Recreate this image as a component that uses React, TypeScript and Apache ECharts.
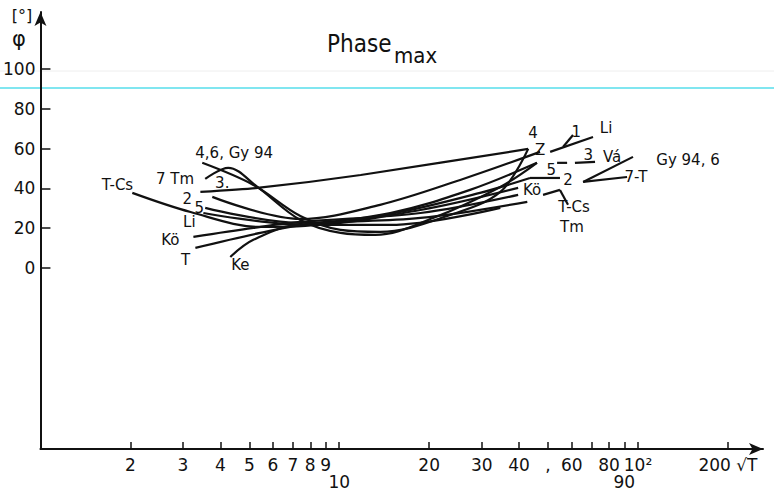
import React, { useEffect, useRef } from 'react';
import * as echarts from 'echarts';

// ---- axis ticks ----
const xTickValues = [2, 3, 4, 5, 6, 7, 8, 9, 10, 20, 30, 40, 50, 60, 70, 80, 90, 100, 200];
const xTickLabels = ['2', '3', '4', '5', '6', '7', '8', '9', '\n10', '20', '30', '40', ',', '60', '', '80', '\n90', '10²', '200 √T'];
const yTickValues = [0, 20, 40, 60, 80, 100];

// ---- curves: [√T, φ in degrees] ----
const curveTm4 = [[3.43, 38.2], [5.32, 40.2], [11.8, 46.7], [42.9, 59.8]];
const curve2Z = [[3.76, 35.7], [7.41, 24.6], [13.7, 31.7], [25.4, 44.2], [47.0, 58.3]];
const curve55 = [[3.56, 30.2], [7.41, 22.6], [14.8, 27.6], [27.4, 39.2], [45.9, 52.8]];
const curveLi = [[3.51, 27.6], [7.7, 21.6], [18.7, 29.1], [39.7, 40.2]];
const curveTCs = [[2.03, 37.7], [3.18, 28.1], [5.44, 20.6], [7.7, 21.1], [16.0, 28.1], [29.6, 37.7], [43.5, 45.2]];
const curveKo = [[3.25, 15.6], [5.16, 20.1], [7.41, 23.1], [18.7, 27.6], [39.7, 36.7]];
const curveT = [[3.3, 10.1], [5.44, 17.6], [8.0, 22.1], [18.7, 25.1], [42.6, 33.2]];
const curveKe = [[4.32, 5.5], [5.16, 14.1], [7.41, 21.6], [14.8, 21.6], [34.6, 30.2]];
const curve3Arch = [[3.56, 44.7], [4.25, 50.3], [5.32, 40.7], [7.41, 24.1], [10.1, 17.6], [13.2, 16.6], [20.6, 25.1], [34.6, 40.7], [45.9, 52.8]];
const curve46Gy = [[3.48, 52.8], [5.16, 41.7], [7.41, 26.1], [10.1, 19.1], [13.7, 18.1], [23.5, 26.6], [34.6, 38.2], [42.9, 59.8]];

const smoothCurves = [curve2Z, curve55, curveLi, curveTCs, curveKo, curveT, curveKe, curve3Arch, curve46Gy];

// ---- short straight segments on the right ----
const segLi = [[50.8, 58.3], [70.7, 65.8]];
const seg1 = [[56.1, 60.8], [60.6, 66.8]];
const seg3 = [[61.5, 52.8], [71.8, 53.3]];
const segGy = [[65.5, 43.2], [96.2, 55.8]];
const seg7T = [[65.5, 43.2], [91.9, 45.7]];
const seg2 = [[43.5, 45.2], [54.8, 45.2]];
const segKo = [[48.1, 36.7], [54.8, 39.2]];
const segTCs = [[54.8, 39.2], [58.3, 31.7]];
const seg5 = [[53.6, 52.8], [57.9, 52.8]];

const straightLines = [curveTm4, segLi, seg1, seg3, segGy, seg7T, seg2, segKo, segTCs, seg5];

// ---- curve labels: [√T, φ, text] ----
const annotations: [number, number, string][] = [
  [1.81, 41.7, 'T-Cs'],
  [4.45, 57.8, '4,6, Gy 94'],
  [2.82, 44.5, '7 Tm'],
  [4.06, 42.7, '3.'],
  [3.1, 34.4, '2'],
  [3.4, 30.2, '5'],
  [3.15, 23.1, 'Li'],
  [2.72, 14.1, 'Kö'],
  [3.06, 4.0, 'T'],
  [4.67, 1.5, 'Ke'],
  [44.5, 67.8, '4'],
  [47.0, 59.3, 'Z'],
  [62.1, 68.3, '1'],
  [78.2, 70.4, 'Li'],
  [51.2, 49.2, '5'],
  [68.1, 56.8, '3'],
  [81.9, 55.8, 'Vá'],
  [147, 54.3, 'Gy 94, 6'],
  [58.3, 44.2, '2'],
  [98.4, 45.7, '7-T'],
  [44.2, 39.2, 'Kö'],
  [61.1, 30.7, 'T-Cs'],
  [60.1, 20.4, 'Tm'],
];

const FONT = '"DejaVu Sans", "Liberation Sans", sans-serif';
const INK = '#111111';

const lg = (v: number) => Math.log10(v);
const toLog = (pts: number[][]) => pts.map(([x, y]) => [lg(x), y]);

export default function App() {
  const ref = useRef<HTMLDivElement>(null);

  useEffect(() => {
    if (!ref.current) return;
    const chart = echarts.init(ref.current, null, { renderer: 'svg' });
    const xTickLogs = xTickValues.map(lg);

    const lineSeries: any[] = [];
    smoothCurves.forEach((c) => {
      lineSeries.push({
        type: 'line',
        data: toLog(c),
        smooth: 0.35,
        showSymbol: false,
        symbol: 'none',
        lineStyle: { color: INK, width: 2.2 },
        silent: true,
      });
    });
    straightLines.forEach((c) => {
      lineSeries.push({
        type: 'line',
        data: toLog(c),
        smooth: c === curveTm4 ? 0.2 : false,
        showSymbol: false,
        symbol: 'none',
        lineStyle: { color: INK, width: 2.2 },
        silent: true,
      });
    });

    const option: any = {
      animation: false,
      backgroundColor: '#ffffff',
      grid: { left: 40, right: 11, top: 12, bottom: 45, containLabel: false },
      xAxis: {
        type: 'value',
        min: 0,
        max: lg(262),
        axisLine: {
          show: true,
          onZero: false,
          symbol: ['none', 'arrow'],
          symbolSize: [9, 14],
          lineStyle: { color: INK, width: 2 },
        },
        axisTick: {
          show: true,
          inside: true,
          length: 7,
          customValues: xTickLogs,
          lineStyle: { color: INK, width: 1.5 },
        },
        axisLabel: {
          show: true,
          customValues: xTickLogs,
          hideOverlap: false,
          formatter: (v: number) => {
            const i = xTickLogs.findIndex((t) => Math.abs(t - v) < 1e-6);
            return i >= 0 ? xTickLabels[i] : '';
          },
          fontSize: 17,
          lineHeight: 17,
          color: INK,
          fontFamily: FONT,
          margin: 7,
        },
        splitLine: { show: false },
      },
      yAxis: {
        type: 'value',
        min: -91,
        max: 128.6,
        axisLine: {
          show: true,
          onZero: false,
          symbol: ['none', 'arrow'],
          symbolSize: [9, 14],
          lineStyle: { color: INK, width: 2 },
        },
        axisTick: {
          show: true,
          inside: true,
          length: 10,
          customValues: yTickValues,
          lineStyle: { color: INK, width: 1.5 },
        },
        axisLabel: {
          show: true,
          customValues: yTickValues,
          fontSize: 17,
          color: INK,
          fontFamily: FONT,
          margin: 5,
        },
        splitLine: { show: false },
      },
      graphic: [
        { type: 'line', shape: { x1: 0, y1: 71, x2: 774, y2: 71 }, style: { stroke: '#eeeeee', lineWidth: 1 }, z: 0 },
        { type: 'line', shape: { x1: 0, y1: 88, x2: 774, y2: 88 }, style: { stroke: '#80e6f0', lineWidth: 2 }, z: 0 },
        { type: 'text', x: 22, y: 15, style: { text: '[°]', font: `16px ${FONT}`, fill: INK, align: 'center', verticalAlign: 'middle' } },
        { type: 'text', x: 19, y: 39, style: { text: 'φ', font: `21px ${FONT}`, fill: INK, align: 'center', verticalAlign: 'middle' } },
        { type: 'text', x: 327, y: 44, style: { text: 'Phase', font: `24px "DejaVu Sans Condensed", ${FONT}`, fill: INK, align: 'left', verticalAlign: 'middle' } },
        { type: 'text', x: 394, y: 55, style: { text: 'max', font: `22px "DejaVu Sans Condensed", ${FONT}`, fill: INK, align: 'left', verticalAlign: 'middle' } },
      ],
      series: [
        ...lineSeries,
        {
          type: 'scatter',
          data: annotations.map(([x, y, t]) => ({ value: [lg(x), y], name: t })),
          symbolSize: 1,
          itemStyle: { color: INK, opacity: 0 },
          label: {
            show: true,
            position: 'inside',
            formatter: (p: any) => p.name,
            color: INK,
            opacity: 1,
            textBorderWidth: 0,
            fontSize: 15,
            fontFamily: FONT,
          },
          silent: true,
        },
      ],
    };

    chart.setOption(option);
    return () => chart.dispose();
  }, []);

  return <div ref={ref} style={{ width: 774, height: 494, position: 'absolute', left: 0, top: 0 }} />;
}
